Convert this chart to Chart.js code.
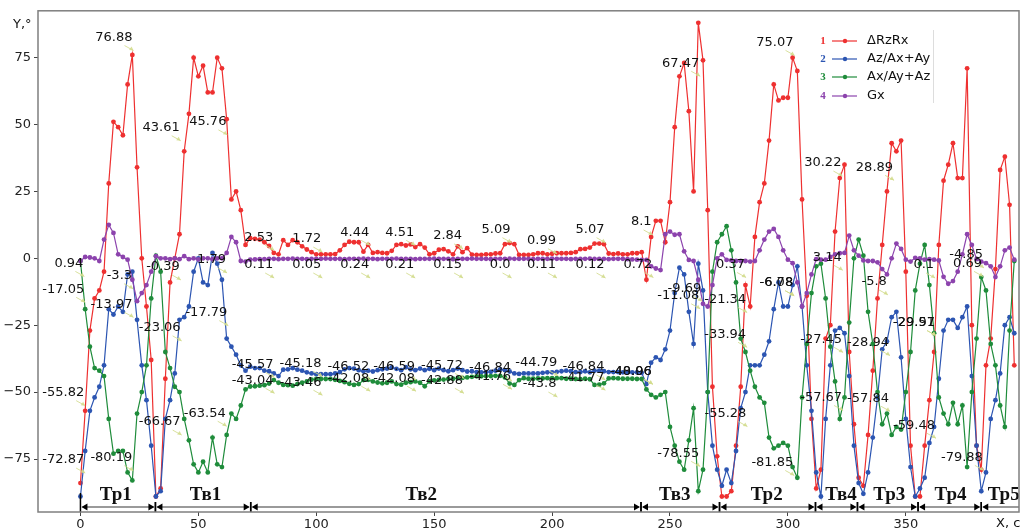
<!DOCTYPE html>
<html>
<head>
<meta charset="utf-8">
<script src="https://cdn.jsdelivr.net/npm/chart.js@4.4.1/dist/chart.umd.min.js"></script>
<style>
  html, body { margin: 0; padding: 0; background: #fff; }
  #wrap { width: 1023px; height: 532px; }
</style>
</head>
<body>
<div id="wrap"><canvas id="chart" width="1023" height="532"></canvas></div>
<script>
// Отсчёты каждые 2 с
const SAMPLE_STEP = 2;

const dRzRx = [
  -84, -57, -27, -15, -12, -5, 28, 51, 49, 46, 65, 76, 34, 0, -18, -38, -89, -86, -45, -9,
  0, 9, 40, 54, 75, 68, 72, 62, 62, 75, 71, 52, 22, 25, 18, 5,
  7.5, 7.3, 7, 6, 4.6, 2, 1.5, 6.8, 5, 6.8, 6, 4.5, 3.3, 2.3, 1.5, 1.5, 1.5, 1.5, 1.6, 3,
  5, 6.2, 6, 6, 2.5, 5, 2, 2.3, 2, 1.9, 2.8, 5, 5.3, 4.8, 5.2, 4.2, 5.3, 4, 1.5, 1.9,
  3.2, 3.4, 2.6, 1.5, 4.5, 2.3, 3.8, 1.4, 1.3, 1.3, 1.5, 1.5, 1.8, 1.9, 5.3, 5.7, 5.3, 1.3, 1.3, 1.3,
  1.5, 1.9, 1.9, 1.5, 1.7, 1.9, 1.9, 1.9, 2, 2.3, 3.4, 3.5, 4, 5.5, 5.5, 5.3, 1.8, 1.6, 1.8, 1.5,
  1.5, 1.9, 1.9, 2.3,
  -8, 8, 14, 14, 6, 21, 49, 68, 73, 55, 25, 88, 74, 18, -48, -74, -89, -89, -87, -70,
  -48, -10, -18, 8, 21, 28, 44, 65, 59, 60, 60, 75, 70, 22, -14, -60, -86, -79, -30, -25,
  10, 30, 35, -35, -62, -82, -85, -66, -42, -15, 5, 25, 43, 40, 44, -5, -70, -89, -89, -70,
  -53, -35, 5, 29, 35, 43, 30, 30, 71, -25, -70, -79, -40, -30, -4, 33, 38, 20, -40
];

const azAxAy = [
  -89, -72, -57, -52, -48, -40, -19, -21, -18, -20, -6, -5, -23, -40, -53, -70, -89, -87, -60, -53,
  -43, -23, -22, -18, -5, 0, -9, -10, 2, -2, -8, -30, -33, -36, -40, -42,
  -40.5, -41, -41, -42, -42.2, -43, -44, -41.6, -41.5, -41, -41.6, -42, -42.6, -43, -43.3, -43.3, -43.3, -43.3, -43, -42.5,
  -41.5, -41, -41.2, -41.8, -42.2, -42, -42.3, -41.8, -41.5, -41.2, -40.8, -41.3, -41.8, -40.7, -41.5, -41.8, -41.2, -41.8, -41.3, -41.8,
  -41.2, -41.8, -42.2, -41.8, -41.2, -41.8, -42.3, -42.2, -42.5, -42.6, -42.5, -42.4, -42, -41.5, -41.8, -42.3, -43, -43.2, -43, -43,
  -43, -43, -42.8, -42.6, -42.6, -42.4, -42.2, -42, -42.2, -42.5, -42.5, -42.2, -42.6, -42, -42, -42.2, -42.5, -42.5, -42.5, -42.6,
  -42.6, -42.6, -42.6, -42.8,
  -47, -39, -37, -38, -34, -27, -13, -3.5, -6, -20, -32, -2, -12, -50, -70, -79, -85, -79, -84, -72,
  -56, -50, -40, -40, -40, -36, -31, -19, -9, -18, -18, -10, -3, -18, -40, -57, -80, -89, -60, -40,
  -27, -26, -28, -44, -70, -84, -88, -80, -67, -52, -34, -31, -22, -20, -37, -60, -78, -89, -86, -82,
  -69, -63, -45, -27, -23, -23, -26, -22, -18, -44, -70, -87, -80, -60, -53, -43, -25, -22, -28
];

const axAyAz = [
  -1, -19, -33, -41, -42, -44, -60, -73, -72, -72, -80, -83, -58, -50, -40, -15, 1, -5, -35, -41,
  -48, -50, -60, -68, -77, -80, -76, -80, -67, -77, -78, -66, -58, -60, -55, -49,
  -47.9, -47.8, -47.6, -47.4, -46.8, -45.5, -46.5, -47.3, -47.4, -47.6, -47, -46.5, -46, -45.3, -45.1, -45.1, -45.1, -45.1, -45.4, -45.8,
  -46.3, -46.9, -47.3, -47, -45.5, -45.4, -46, -46.4, -46.7, -46.5, -46, -47, -47.2, -46.5, -46.3, -46, -46.5, -47.8, -46, -45.6,
  -45.4, -45.3, -45.1, -45, -44.8, -44.7, -44.5, -44.3, -44.1, -44.1, -44, -44, -43.9, -43.9, -44.5, -46.8, -47.3, -45.5, -44.8, -45,
  -45, -44.9, -44.9, -44.8, -44.8, -44.8, -44.8, -45, -45, -45.1, -45.2, -45, -45.2, -47.3, -47.2, -46.7, -44.9, -44.8, -44.9, -45,
  -45, -45, -45.1, -45.1,
  -49, -51, -52, -51, -50, -63, -70, -76, -79, -68, -56, -87, -79, -50, -5, 6, 9, 12, 3, -9,
  -30, -35, -42, -48, -52, -54, -67, -71, -70, -69, -70, -78, -82, -52, -32, -13, -3, -2, -15, -33,
  -46, -60, -52, -24, 0, 7, 1, -20, -32, -50, -62, -58, -66, -63, -64, -50, -35, -12, -2, 5,
  -10, -28, -52, -58, -62, -54, -62, -55, -78, -50, -30, -7, -12, -32, -40, -55, -63, -27, -1
];

const gx = [
  -1, 0.5, 0.3, 0, -1, 7, 12.5, 9.5, 1.5, 0.5, -0.5, -8, -16, -13, -10, -5, 0.8, 0, 0, -0.3,
  0, -0.3, 0.8, -0.3, 0, -0.4, 0, 0, -0.3, 0, 0, 2, 8, 6, -1, -1.2,
  -0.5, -0.4, -0.3, -0.3, -0.2, -0.2, -0.3, -0.2, -0.2, -0.1, -0.2, -0.2, -0.3, -0.2, -0.2, -0.2, -0.1, -0.2, -0.2, -0.2,
  -0.3, -0.2, -0.2, -0.2, -0.1, -0.2, -0.2, -0.3, -0.2, -0.2, -0.2, -0.1, -0.2, -0.2, -0.2, -0.3, -0.2, -0.2, -0.2, -0.1,
  -0.2, -0.2, -0.2, -0.3, -0.2, -0.2, -0.2, -0.1, -0.2, -0.2, -0.2, -0.3, -0.2, -0.2, -0.2, -0.1, -0.2, -0.2, -0.2, -0.2,
  -0.3, -0.2, -0.2, -0.2, -0.1, -0.2, -0.2, -0.2, -0.3, -0.2, -0.2, -0.2, -0.1, -0.2, -0.2, -0.2, -0.3, -0.2, -0.2, -0.2,
  -0.3, -0.4, -0.5, -0.6,
  -0.6, -3, -3.8, -4.4, 9, 10, 8.8, 9, 2.6, -0.6, -1, -8, -17, -18, -10, 0, 1.5, -0.6, -0.8, -1,
  -1, -1, -1.2, -1, 3, 7, 10, 11, 8, 3, -0.5, -1.8, -9, -18, -13, -6, -0.3, -0.5, -0.5, 0.5,
  1.5, 1.9, 2, 8.5, 3, 1, -0.8, -1, -1, -1.5, -4, -6, 0, 5.5, 3.5, -0.5, -1.2, 0.2, 0, -0.5,
  -0.3, -0.5, -0.8, -6.9, -9.5, -8.5, -5, 1.5, 9, 5, -0.3, -1.2, -1.8, -3, -7, -3, 3, 4, -0.5
];

const seriesNames = ['ΔRzRx', 'Az/Ax+Ay', 'Ax/Ay+Az', 'Gx'];
const xTicks = [0, 50, 100, 150, 200, 250, 300, 350];
const yTicks = [-75, -50, -25, 0, 25, 50, 75];

// Этапы: границы по оси X и подписи
const stageBounds = [0, 31.8, 72.2, 237.7, 271, 311.7, 329.5, 355.2, 382, 402];
const stageNames = ['Тр1', 'Тв1', 'Тв2', 'Тв3', 'Тр2', 'Тв4', 'Тр3', 'Тр4', 'Тр5'];
const stageLabelX = [15, 53, 144.5, 252, 291, 322.5, 343, 369, 391.5];

// Подписи значений: x, y (центр текста), текст
const notes = [
  [14.2, 82.5, '76.88'], [34.2, 48.8, '43.61'], [54.0, 51.0, '45.76'],
  [-4.9, -1.9, '0.94'], [-7.3, -11.6, '-17.05'], [16.5, -6.5, '-3.3'], [13.2, -17.2, '-13.97'],
  [35.0, -3.2, '-0.39'], [55.6, -0.6, '1.79'], [33.6, -26.0, '-23.06'], [53.4, -20.3, '-17.79'],
  [-7.3, -50.2, '-55.82'], [33.6, -61.2, '-66.67'], [52.7, -57.9, '-63.54'],
  [-7.3, -75.4, '-72.87'], [13.1, -74.5, '-80.19'],
  [75.6, 7.9, '2.53'], [75.6, -2.5, '0.11'], [96.0, 7.2, '1.72'], [96.0, -2.5, '0.05'],
  [116.3, 9.7, '4.44'], [116.3, -2.5, '0.24'], [135.4, 9.7, '4.51'], [135.4, -2.5, '0.21'],
  [155.7, 8.4, '2.84'], [155.7, -2.5, '0.15'], [176.2, 10.7, '5.09'], [178.0, -2.5, '0.0'],
  [195.5, 6.6, '0.99'], [195.5, -2.5, '0.11'], [216.1, 10.7, '5.07'], [216.1, -2.5, '0.12'],
  [237.8, 13.6, '8.1'], [236.4, -2.3, '0.72'],
  [73.0, -39.7, '-45.57'], [93.3, -39.3, '-45.18'], [113.6, -40.6, '-46.52'], [133.0, -40.6, '-46.59'],
  [153.3, -40.0, '-45.72'], [173.7, -41.0, '-46.84'], [193.3, -39.1, '-44.79'], [213.3, -40.6, '-46.84'],
  [233.4, -42.2, '-40.06'], [233.4, -42.2, '-48.96'],
  [73.0, -45.6, '-43.04'], [93.3, -46.3, '-43.46'], [113.6, -44.8, '-42.08'], [133.0, -44.8, '-42.08'],
  [153.3, -45.6, '-42.88'], [173.7, -44.1, '-41.76'], [194.7, -47.0, '-43.8'], [213.3, -44.4, '-41.77'],
  [254.5, 72.9, '67.47'], [256.1, -11.2, '-9.69'], [253.5, -14.0, '-11.08'], [275.7, -2.3, '0.37'],
  [273.4, -15.4, '-21.34'], [273.4, -28.4, '-33.94'], [273.5, -58.0, '-55.28'], [253.5, -72.9, '-78.55'],
  [294.5, 80.7, '75.07'], [295.1, -9.1, '-6.08'], [295.1, -9.1, '-6.78'], [293.4, -76.3, '-81.85'],
  [314.8, 35.6, '30.22'], [316.7, 0.4, '3.14'], [314.1, -30.3, '-27.45'], [314.1, -52.0, '-57.67'],
  [336.7, 34.0, '28.89'], [336.6, -8.8, '-5.8'], [334.0, -31.5, '-28.94'], [334.0, -52.3, '-57.84'],
  [353.5, -24.0, '-29.51'], [353.5, -24.0, '-29.97'], [353.5, -62.4, '-59.48'], [357.6, -2.5, '0.1'],
  [375.6, 1.3, '-4.85'], [376.2, -1.9, '0.69'], [373.8, -74.4, '-79.88']
];

const STAGE_LINE_Y = -92.9;
const STAGE_TEXT_Y = -90.3;

const colors = ['#ee3030', '#2c55b2', '#1f8c3b', '#8c43ad'];
const FONT = '"DejaVu Sans", sans-serif';

const xs = dRzRx.map((_, i) => i * SAMPLE_STEP);
const allSeries = [dRzRx, azAxAy, axAyAz, gx];

const datasets = allSeries.map((vals, k) => ({
  label: seriesNames[k],
  data: xs.map((x, i) => ({ x: x, y: vals[i] })),
  borderColor: colors[k],
  backgroundColor: colors[k],
  pointBackgroundColor: colors[k],
  borderWidth: 1.2,
  pointRadius: 2.4,
  pointBorderWidth: 0,
  tension: 0,
  order: 3 - k
}));

const overlay = {
  id: 'overlay',
  afterDatasetsDraw(chart) {
    const { ctx, chartArea: a } = chart;
    const sx = chart.scales.x, sy = chart.scales.y;
    ctx.save();

    // подписи значений со стрелками
    ctx.font = '13px ' + FONT;
    ctx.textAlign = 'center';
    ctx.textBaseline = 'middle';
    notes.forEach(([x, y, t]) => {
      const px = sx.getPixelForValue(x), py = sy.getPixelForValue(y);
      const w = ctx.measureText(t).width;
      const r = px + w / 2, b = py + 6;
      const x0 = r - 8, y0 = b + 2, x1 = r + 1, y1 = b + 7;
      ctx.strokeStyle = 'rgba(210,220,140,0.85)';
      ctx.fillStyle = 'rgba(210,220,140,0.85)';
      ctx.lineWidth = 1;
      ctx.beginPath();
      ctx.moveTo(x0, y0);
      ctx.lineTo(x1, y1);
      ctx.stroke();
      ctx.beginPath();
      ctx.moveTo(x1, y1); ctx.lineTo(x1 - 4.5, y1 - 0.5); ctx.lineTo(x1 - 2, y1 - 4); ctx.closePath();
      ctx.fill();
      ctx.fillStyle = '#111';
      ctx.fillText(t, px, py);
    });

    // этапы внизу
    ctx.save();
    ctx.beginPath();
    ctx.rect(a.left, a.top, a.right - a.left, a.bottom - a.top);
    ctx.clip();
    const ly = sy.getPixelForValue(STAGE_LINE_Y);
    for (let i = 0; i < stageNames.length; i++) {
      const x1 = sx.getPixelForValue(stageBounds[i]);
      const x2 = sx.getPixelForValue(stageBounds[i + 1]);
      ctx.strokeStyle = '#9a9a9a';
      ctx.lineWidth = 2;
      ctx.beginPath();
      ctx.moveTo(x1 + 2, ly);
      ctx.lineTo(x2 - 2, ly);
      ctx.stroke();
      ctx.fillStyle = '#000';
      ctx.beginPath();
      ctx.moveTo(x1 + 1, ly); ctx.lineTo(x1 + 7, ly - 3.5); ctx.lineTo(x1 + 7, ly + 3.5); ctx.closePath();
      ctx.fill();
      ctx.beginPath();
      ctx.moveTo(x2 - 1, ly); ctx.lineTo(x2 - 7, ly - 3.5); ctx.lineTo(x2 - 7, ly + 3.5); ctx.closePath();
      ctx.fill();
      ctx.strokeStyle = '#000';
      ctx.lineWidth = 1.5;
      ctx.beginPath();
      const top = i === 0 ? ly - 14 : ly - 5;
      ctx.moveTo(x1, top); ctx.lineTo(x1, ly + 5);
      ctx.moveTo(x2, ly - 5); ctx.lineTo(x2, ly + 5);
      ctx.stroke();
    }
    ctx.restore();
    ctx.font = 'bold 19px "Liberation Serif", serif';
    ctx.textAlign = 'center';
    ctx.textBaseline = 'alphabetic';
    ctx.fillStyle = '#111';
    const ty = sy.getPixelForValue(STAGE_TEXT_Y);
    stageNames.forEach((n, i) => ctx.fillText(n, sx.getPixelForValue(stageLabelX[i]), ty));

    // рамка
    ctx.strokeStyle = '#7f7f7f';
    ctx.lineWidth = 1.5;
    ctx.strokeRect(a.left, a.top, a.right - a.left, a.bottom - a.top);

    // легенда
    const lx = 823, rows = [41, 59, 77, 96];
    rows.forEach((ry, k) => {
      ctx.font = 'bold 11px "Liberation Serif", serif';
      ctx.textAlign = 'center';
      ctx.textBaseline = 'middle';
      ctx.fillStyle = colors[k];
      ctx.fillText(String(k + 1), lx, ry);
      ctx.strokeStyle = colors[k];
      ctx.lineWidth = 1.2;
      ctx.beginPath();
      ctx.moveTo(lx + 9, ry); ctx.lineTo(lx + 34, ry);
      ctx.stroke();
      ctx.beginPath();
      ctx.arc(lx + 22, ry, 2.2, 0, Math.PI * 2);
      ctx.fill();
      ctx.font = '13px ' + FONT;
      ctx.textAlign = 'left';
      ctx.fillStyle = '#111';
      ctx.fillText(seriesNames[k], lx + 44, ry);
    });
    ctx.strokeStyle = '#dddddd';
    ctx.lineWidth = 1;
    ctx.beginPath();
    ctx.moveTo(933.5, 30); ctx.lineTo(933.5, 103);
    ctx.stroke();

    // подписи осей
    ctx.font = '13px ' + FONT;
    ctx.fillStyle = '#111';
    ctx.textAlign = 'left';
    ctx.textBaseline = 'middle';
    ctx.fillText('Y,°', 13, 25);
    ctx.fillText('X, c', 996, 524);
    ctx.restore();
  }
};

new Chart(document.getElementById('chart'), {
  type: 'line',
  data: { datasets: datasets },
  options: {
    responsive: false,
    animation: false,
    layout: { padding: { top: 10, right: 3, left: 0, bottom: 0 } },
    plugins: { legend: { display: false }, tooltip: { enabled: false } },
    scales: {
      x: {
        type: 'linear',
        min: -18,
        max: 398,
        afterBuildTicks: s => { s.ticks = xTicks.map(v => ({ value: v })); },
        afterFit: s => { s.height = 20; },
        ticks: { color: '#222', font: { family: FONT, size: 13 }, padding: 1, maxRotation: 0 },
        grid: { drawOnChartArea: false, drawTicks: true, tickLength: 4, color: '#444' },
        border: { display: false }
      },
      y: {
        min: -94.8,
        max: 92.5,
        afterBuildTicks: s => { s.ticks = yTicks.map(v => ({ value: v })); },
        afterFit: s => { s.width = 38; },
        ticks: {
          color: '#222',
          font: { family: FONT, size: 13 },
          padding: 3,
          callback: v => String(v).replace('-', '\u2212')
        },
        grid: { drawOnChartArea: false, drawTicks: true, tickLength: 4, color: '#444' },
        border: { display: false }
      }
    }
  },
  plugins: [overlay]
});
</script>
</body>
</html>
